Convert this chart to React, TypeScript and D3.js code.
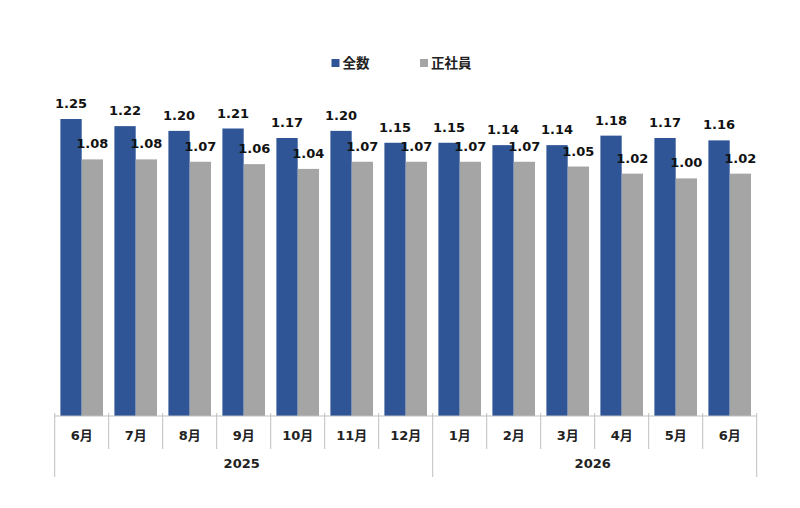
import { useEffect, useRef } from 'react';
import * as d3 from 'd3';

const months = ['6月', '7月', '8月', '9月', '10月', '11月', '12月', '1月', '2月', '3月', '4月', '5月', '6月'];
const years = ['2025', '2026'];
const yearSpans = [7, 6];
const seriesNames = ['全数', '正社員'];
const totalValues = [1.25, 1.22, 1.2, 1.21, 1.17, 1.2, 1.15, 1.15, 1.14, 1.14, 1.18, 1.17, 1.16];
const regularValues = [1.08, 1.08, 1.07, 1.06, 1.04, 1.07, 1.07, 1.07, 1.07, 1.05, 1.02, 1.0, 1.02];
const colors = ['#2F5597', '#A5A5A5'];

const W = 800;
const H = 508;

export default function App() {
  const svgRef = useRef<SVGSVGElement>(null);

  useEffect(() => {
    // @ts-ignore
    const svg = d3.select<SVGSVGElement, unknown>(svgRef.current);
    svg.selectAll('*').remove();

    const baseY = 416;
    const left = 54.7;
    const right = 756.7;
    const numFont = '"DejaVu Sans", "Noto Sans CJK JP", sans-serif';
    const cjkFont = '"Noto Sans CJK JP", "DejaVu Sans", sans-serif';

    const x = d3.scaleBand<number>().domain(d3.range(months.length)).range([left, right]);
    const xs = d3.scaleBand<string>().domain(seriesNames).range([5.7, x.bandwidth() - 5.7]);
    const y = d3.scaleLinear().domain([0, 1.4]).range([baseY, baseY - 1.4 * 237.6]);

    const series = [totalValues, regularValues];

    // bars
    series.forEach((vals, si) => {
      svg.append('g')
        .selectAll('rect')
        .data(vals)
        .enter()
        .append('rect')
        .attr('x', (_, i) => (x(i) as number) + (xs(seriesNames[si]) as number))
        .attr('y', d => y(d))
        .attr('width', xs.bandwidth())
        .attr('height', d => baseY - y(d))
        .attr('fill', colors[si]);
    });

    // value labels
    series.forEach((vals, si) => {
      svg.append('g')
        .selectAll('text')
        .data(vals)
        .enter()
        .append('text')
        .attr('x', (_, i) => (x(i) as number) + (xs(seriesNames[si]) as number) + xs.bandwidth() / 2)
        .attr('y', d => y(d) - 11)
        .attr('text-anchor', 'middle')
        .attr('font-family', numFont)
        .attr('font-weight', 'bold')
        .attr('font-size', 13)
        .attr('fill', '#111')
        .text(d => d.toFixed(2));
    });

    // axis line
    svg.append('line')
      .attr('x1', left).attr('x2', right)
      .attr('y1', baseY).attr('y2', baseY)
      .attr('stroke', '#BFBFBF').attr('stroke-width', 1);

    // category dividers
    const groupEdges = [0];
    yearSpans.forEach(s => groupEdges.push(groupEdges[groupEdges.length - 1] + s));
    d3.range(months.length + 1).forEach(i => {
      const xp = i < months.length ? (x(i) as number) : right;
      const isGroup = groupEdges.includes(i);
      svg.append('line')
        .attr('x1', xp).attr('x2', xp)
        .attr('y1', baseY - 3).attr('y2', isGroup ? 477 : 449)
        .attr('stroke', '#BFBFBF').attr('stroke-width', 1);
    });

    // month labels
    svg.append('g')
      .selectAll('text')
      .data(months)
      .enter()
      .append('text')
      .attr('x', (_, i) => (x(i) as number) + x.bandwidth() / 2)
      .attr('y', 439.5)
      .attr('text-anchor', 'middle')
      .attr('font-family', numFont)
      .attr('font-weight', 'bold')
      .attr('font-size', 13)
      .attr('fill', '#222')
      .text(d => d);

    // year labels
    years.forEach((yr, gi) => {
      const x0 = x(groupEdges[gi]) as number;
      const endIdx = groupEdges[gi + 1];
      const x1 = endIdx < months.length ? (x(endIdx) as number) : right;
      svg.append('text')
        .attr('x', (x0 + x1) / 2 - 2)
        .attr('y', 467.5)
        .attr('text-anchor', 'middle')
        .attr('font-family', numFont)
        .attr('font-weight', 'bold')
        .attr('font-size', 13)
        .attr('fill', '#222')
        .text(yr);
    });

    // legend
    const legendX = [331.5, 420];
    seriesNames.forEach((name, si) => {
      const lg = svg.append('g').attr('transform', `translate(${legendX[si]},59)`);
      lg.append('rect').attr('width', 8).attr('height', 8).attr('fill', colors[si]);
      lg.append('text')
        .attr('x', 11)
        .attr('y', 9)
        .attr('font-family', cjkFont)
        .attr('font-weight', 'bold')
        .attr('font-size', 13.5)
        .attr('fill', '#222')
        .text(name);
    });
  }, []);

  return (
    <svg
      ref={svgRef}
      width={W}
      height={H}
      style={{ position: 'absolute', top: 0, left: 0, background: '#fff' }}
    />
  );
}
